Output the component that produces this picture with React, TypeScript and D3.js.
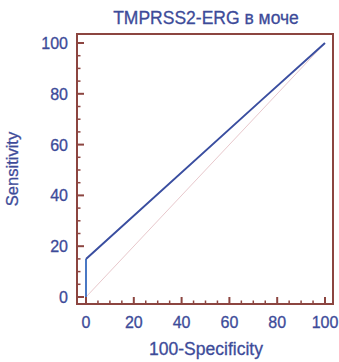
import React from 'react';
import * as d3 from 'd3';

const rocX = [0, 0, 74, 100];
const rocY = [0, 15, 78, 100];
const tickValues = [0, 20, 40, 60, 80, 100];
const minorValues = d3.range(0, 101, 5);

const W = 339;
const H = 362;
const frame = { left: 77, right: 333, top: 34, bottom: 304 };

const xScale = d3.scaleLinear().domain([0, 100]).range([86, 325]);
const yScale = d3.scaleLinear().domain([0, 100]).range([297, 43]);

const labelColor = '#3d4b99';
const frameColor = '#8c4540';

export default function App() {
  const pts: [number, number][] = rocX.map((x, i) => [x, rocY[i]]);
  const line = d3.line<[number, number]>()
    .x((d) => xScale(d[0]))
    .y((d) => yScale(d[1]));

  const textStyle = { fill: labelColor, stroke: labelColor, strokeWidth: 0.3 };

  return (
    <svg width={W} height={H} style={{ position: 'absolute', left: 0, top: 0 }}
      fontFamily="'Liberation Sans', Arial, sans-serif">
      <rect width={W} height={H} fill="#fff" />
      <text x={206} y={24} textAnchor="middle" fontSize={17.5} {...textStyle}>TMPRSS2-ERG в моче</text>

      {/* diagonal reference */}
      <line x1={xScale(0)} y1={yScale(0)} x2={xScale(100)} y2={yScale(100)}
        stroke="#e8c8cc" strokeWidth={1} />

      {/* ROC curve */}
      <path d={line(pts.slice(0, 2)) || ''} fill="none" stroke="#4a78c4" strokeWidth={2} />
      <path d={line(pts.slice(1)) || ''} fill="none" stroke="#3a4ea0" strokeWidth={2} />

      {/* frame */}
      <rect x={frame.left} y={frame.top} width={frame.right - frame.left} height={frame.bottom - frame.top}
        fill="none" stroke={frameColor} strokeWidth={2} />

      {/* y ticks */}
      {minorValues.map((v) => (
        <line key={'ym' + v} x1={frame.left} x2={frame.left + (v % 20 === 0 ? 7 : 3.5)}
          y1={yScale(v)} y2={yScale(v)} stroke={frameColor} strokeWidth={v % 20 === 0 ? 2 : 1.5} />
      ))}
      {/* x ticks */}
      {minorValues.map((v) => (
        <line key={'xm' + v} y1={frame.bottom} y2={frame.bottom - (v % 20 === 0 ? 7 : 3.5)}
          x1={xScale(v)} x2={xScale(v)} stroke={frameColor} strokeWidth={v % 20 === 0 ? 2 : 1.5} />
      ))}

      {tickValues.map((v) => (
        <text key={'yl' + v} x={68} y={yScale(v) + 6} textAnchor="end" fontSize={16} {...textStyle}>{v}</text>
      ))}
      {tickValues.map((v) => (
        <text key={'xl' + v} x={xScale(v)} y={328} textAnchor="middle" fontSize={16} {...textStyle}>{v}</text>
      ))}

      <text x={206} y={355} textAnchor="middle" fontSize={17.5} {...textStyle}>100-Specificity</text>
      <text transform={`translate(18,169) rotate(-90)`} textAnchor="middle" fontSize={16.5} {...textStyle}>Sensitivity</text>
    </svg>
  );
}
